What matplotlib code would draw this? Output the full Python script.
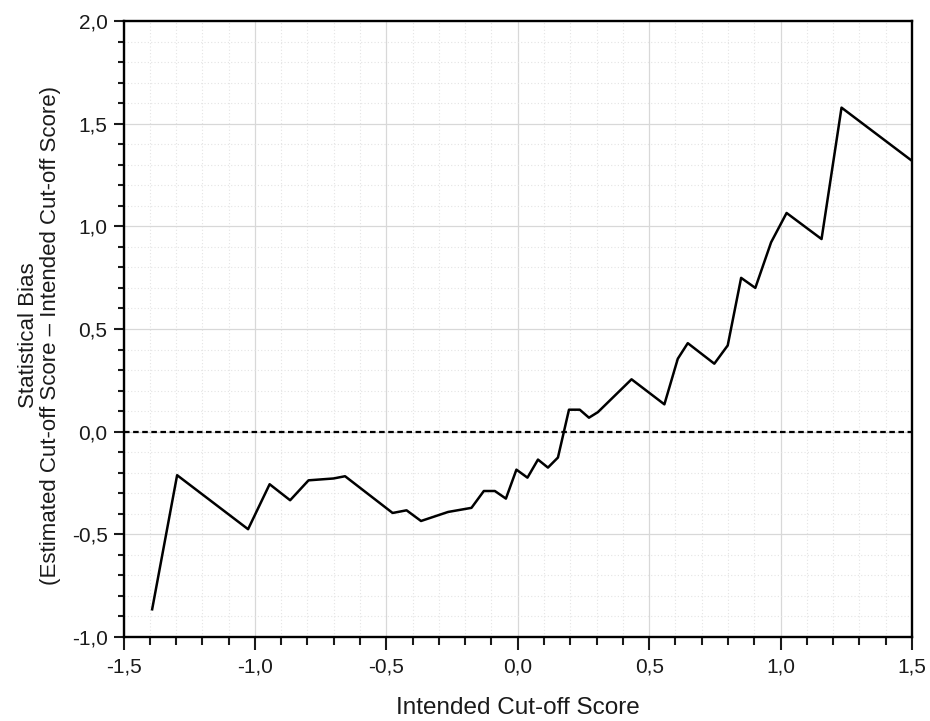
import numpy as np
import matplotlib
matplotlib.use("Agg")
from matplotlib import pyplot as plt
from matplotlib.ticker import MultipleLocator, FuncFormatter

# intended cut-off score vs. statistical bias
cutoff = [-1.391, -1.296, -1.026, -0.944, -0.866, -0.796, -0.701, -0.657,
          -0.476, -0.423, -0.368, -0.265, -0.176, -0.129, -0.087, -0.045,
          -0.005, 0.037, 0.077, 0.115, 0.153, 0.195, 0.236, 0.271, 0.305,
          0.433, 0.558, 0.609, 0.647, 0.748, 0.799, 0.850, 0.904, 0.964,
          1.023, 1.156, 1.232, 1.50]
bias = [-0.865, -0.212, -0.475, -0.256, -0.334, -0.237, -0.228, -0.217,
        -0.396, -0.383, -0.435, -0.391, -0.371, -0.289, -0.289, -0.326,
        -0.185, -0.224, -0.136, -0.175, -0.126, 0.107, 0.107, 0.068, 0.095,
        0.255, 0.133, 0.355, 0.431, 0.331, 0.420, 0.749, 0.700, 0.922,
        1.065, 0.938, 1.578, 1.319]

plt.rcParams['font.family'] = ['Liberation Sans', 'DejaVu Sans']

fig = plt.figure(figsize=(9.3, 7.21), dpi=100)
ax = fig.add_axes([0.1328, 0.1165, 0.8478, 0.8544])

ax.plot(cutoff, bias, color='black', lw=1.8, zorder=3)
ax.axhline(0, color='black', lw=1.6, ls=(0, (2.5, 1.6)), zorder=2)

ax.set_xlim(-1.5, 1.5)
ax.set_ylim(-1.0, 2.0)
ax.xaxis.set_major_locator(MultipleLocator(0.5))
ax.xaxis.set_minor_locator(MultipleLocator(0.1))
ax.yaxis.set_major_locator(MultipleLocator(0.5))
ax.yaxis.set_minor_locator(MultipleLocator(0.1))

comma = FuncFormatter(lambda v, p: f"{v:.1f}".replace('.', ','))
ax.xaxis.set_major_formatter(comma)
ax.yaxis.set_major_formatter(comma)

ax.grid(which='major', color='#d8d8d8', lw=0.9)
ax.grid(which='minor', color='#e4e4e4', lw=0.8, ls=(0, (1, 2)))
ax.set_axisbelow(True)

for s in ax.spines.values():
    s.set_linewidth(1.7)

ax.tick_params(which='both', direction='out', width=1.5, labelsize=15,
               colors='#1a1a1a')
ax.tick_params(axis='x', which='major', length=9.5, pad=5)
ax.tick_params(axis='x', which='minor', length=6)
ax.tick_params(axis='y', which='major', length=7.5, pad=4)
ax.tick_params(axis='y', which='minor', length=4)

ax.set_xlabel('Intended Cut-off Score', fontsize=17.5, color='#1a1a1a')
ax.xaxis.set_label_coords(0.5, -0.097)
ax.set_ylabel('Statistical Bias\n(Estimated Cut-off Score \u2013 Intended Cut-off Score)',
              fontsize=16, linespacing=1.05, color='#1a1a1a')
ax.yaxis.set_label_coords(-0.079, 0.49)

fig.savefig('out.png', dpi=100)
